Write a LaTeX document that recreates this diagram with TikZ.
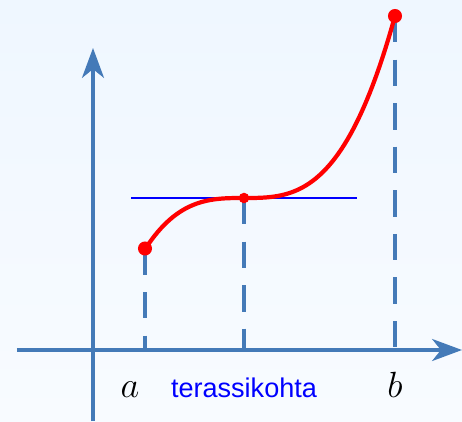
\documentclass[tikz,border=0pt]{standalone}
\usepackage{fontspec}
\newfontfamily\labelfont{Liberation Sans}
\usetikzlibrary{arrows.meta}

\definecolor{axiscol}{RGB}{68,122,184}
\definecolor{bgtop}{RGB}{239,247,255}
\definecolor{bgbot}{RGB}{248,251,255}

\tikzset{
  axis/.style={axiscol, line width=2pt, -{Stealth[length=17pt, width=12.5pt, inset=5pt]}},
  guide/.style={axiscol, line width=2.2pt, dash pattern=on 15pt off 9.8pt},
  graph/.style={red, line width=2.4pt},
  tangent/.style={blue, line width=1.4pt},
  dot/.style={circle, fill=red, inner sep=0pt, minimum size=#1},
  lab/.style={anchor=base, font=\fontsize{22}{26}\selectfont},
}

\begin{document}
\begin{tikzpicture}[>=Stealth]

% background
\fill[top color=bgtop, bottom color=bgbot] (-1.86,-1.42) rectangle (7.38,7.0);
\useasboundingbox (-1.86,-1.42) rectangle (7.38,7.0);

% points on the curve
\coordinate (O) at (0,0);
\coordinate (A) at (1.04,2.03);
\coordinate (T) at (3.02,3.04);
\coordinate (B) at (6.04,6.68);

% guide lines down to the x-axis
\draw[guide] (A) -- (A |- O);
\draw[guide] (T) -- (T |- O);
\draw[guide] (B) -- (B |- O);

% axes
\draw[axis] (-1.52,0) -- (7.38,0);
\draw[axis] (0,-1.42) -- (0,6.04);

% horizontal tangent at the terrace point
\draw[tangent] (0.76,3.04) -- (5.28,3.04);

% the graph
\draw[graph, domain=1.04:6.04, samples=80] plot (\x, {3.04+0.1322*(\x-3.02)^3});

\node[dot=8pt] (pa) at (A) {};
\node[dot=6pt] (pt) at (T) {};
\node[dot=8pt] (pb) at (B) {};

% labels
\node[lab] (la) at (0.74,-0.94) {$a$};
\node[lab, font=\labelfont\fontsize{15.4}{18}\selectfont, blue] (lt) at (3.02,-0.94) {terassikohta};
\node[lab] (lb) at (6.04,-0.94) {$b$};

\end{tikzpicture}
\end{document}
